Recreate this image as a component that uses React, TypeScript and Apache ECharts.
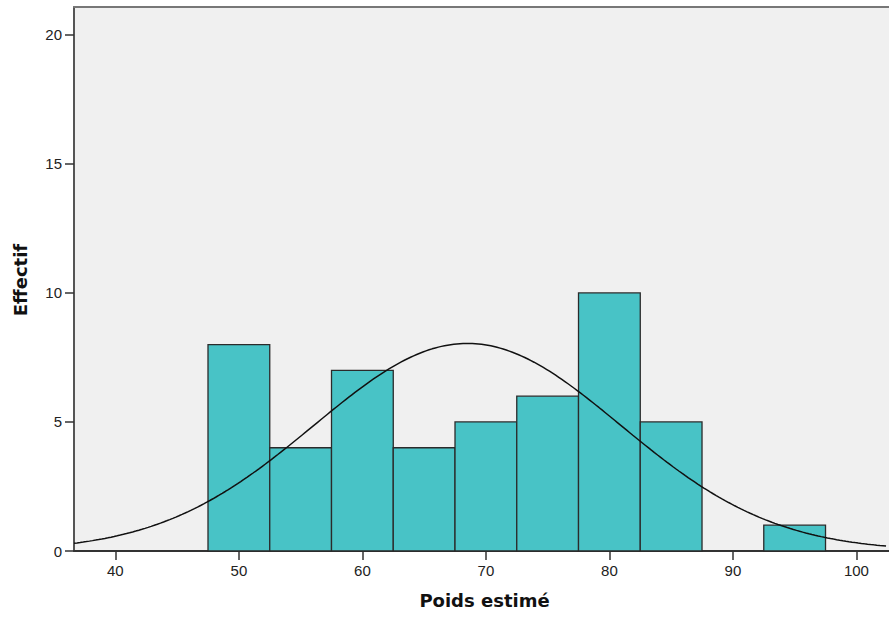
import React, { useEffect, useRef } from "react";
import * as echarts from "echarts";

// Histogram bins (lower bound of each 5-unit bin) and counts
const binStarts = [47.5, 52.5, 57.5, 62.5, 67.5, 72.5, 77.5, 82.5, 87.5, 92.5];
const binWidth = 5;
const counts = [8, 4, 7, 4, 5, 6, 10, 5, 0, 1];

// Fitted normal curve parameters
const fitMean = 68.5;
const fitSd = 12.4;
const fitN = 50;

const xTicks = [40, 50, 60, 70, 80, 90, 100];
const yTicks = [0, 5, 10, 15, 20];
const xMin = 36.65;
const xMax = 102.64;
const yMax = 21.08;

const xTitle = "Poids estimé";
const yTitle = "Effectif";

export default function App() {
  const ref = useRef<HTMLDivElement>(null);
  useEffect(() => {
    document.body.style.margin = "0";
    if (!ref.current) return;
    const chart = echarts.init(ref.current, null, { renderer: "svg" });

    const histData = binStarts.map((s, i) => [s, s + binWidth, counts[i]]);
    const curve: number[][] = [];
    for (let x = xMin; x <= xMax + 1e-9; x += 0.25) {
      const z = (x - fitMean) / fitSd;
      curve.push([x, (fitN * binWidth) / (fitSd * Math.sqrt(2 * Math.PI)) * Math.exp(-0.5 * z * z)]);
    }

    const labelStyle = { fontFamily: "Liberation Sans, Arial, sans-serif", fontSize: 15, color: "#222" };

    chart.setOption({
      animation: false,
      grid: {
        left: 74,
        top: 7,
        right: 0,
        bottom: 66,
        show: true,
        backgroundColor: "#F0F0F0",
        borderWidth: 0,
      },
      xAxis: [
        {
          type: "value",
          min: xMin,
          max: xMax,
          axisLine: { show: true, lineStyle: { color: "#333", width: 2 } },
          axisTick: { show: true, length: 9, lineStyle: { color: "#333", width: 1.5 }, customValues: xTicks },
          axisLabel: { ...labelStyle, margin: 12, customValues: xTicks },
          splitLine: { show: false },
        },
        {
          type: "value",
          position: "top",
          min: xMin,
          max: xMax,
          axisLine: { show: true, lineStyle: { color: "#777", width: 2 } },
          axisTick: { show: false },
          axisLabel: { show: false },
          splitLine: { show: false },
        },
      ],
      yAxis: {
        type: "value",
        min: 0,
        max: yMax,
        axisLine: { show: true, lineStyle: { color: "#555", width: 2 } },
        axisTick: { show: true, length: 9, lineStyle: { color: "#333", width: 1.5 }, customValues: yTicks },
        axisLabel: { ...labelStyle, margin: 12, customValues: yTicks },
        splitLine: { show: false },
      },
      graphic: [
        {
          type: "text",
          x: 484.5,
          y: 600,
          style: {
            text: xTitle,
            font: "bold 18px 'DejaVu Sans', sans-serif",
            fill: "#111",
            textAlign: "center",
            textVerticalAlign: "middle",
          },
        },
        {
          type: "text",
          x: 20,
          y: 280,
          rotation: Math.PI / 2,
          style: {
            text: yTitle,
            font: "bold 18px 'DejaVu Sans', sans-serif",
            fill: "#111",
            textAlign: "center",
            textVerticalAlign: "middle",
          },
        },
      ],
      series: [
        {
          type: "custom",
          z: 2,
          xAxisIndex: 0,
          data: histData,
          renderItem: (params: any, api: any) => {
            const start = api.value(0);
            const end = api.value(1);
            const c = api.value(2);
            if (!c) return null;
            const p0 = api.coord([start, 0]);
            const p1 = api.coord([end, c]);
            return {
              type: "rect",
              shape: { x: p0[0], y: p1[1], width: p1[0] - p0[0], height: p0[1] - p1[1] },
              style: { fill: "#48C3C6", stroke: "#2b2b2b", lineWidth: 1.3 },
            };
          },
        },
        {
          type: "line",
          z: 3,
          xAxisIndex: 0,
          data: curve,
          showSymbol: false,
          symbol: "none",
          lineStyle: { color: "#111", width: 1.5 },
        },
      ],
    });
    return () => chart.dispose();
  }, []);
  return <div ref={ref} style={{ width: 889, height: 617 }} />;
}
